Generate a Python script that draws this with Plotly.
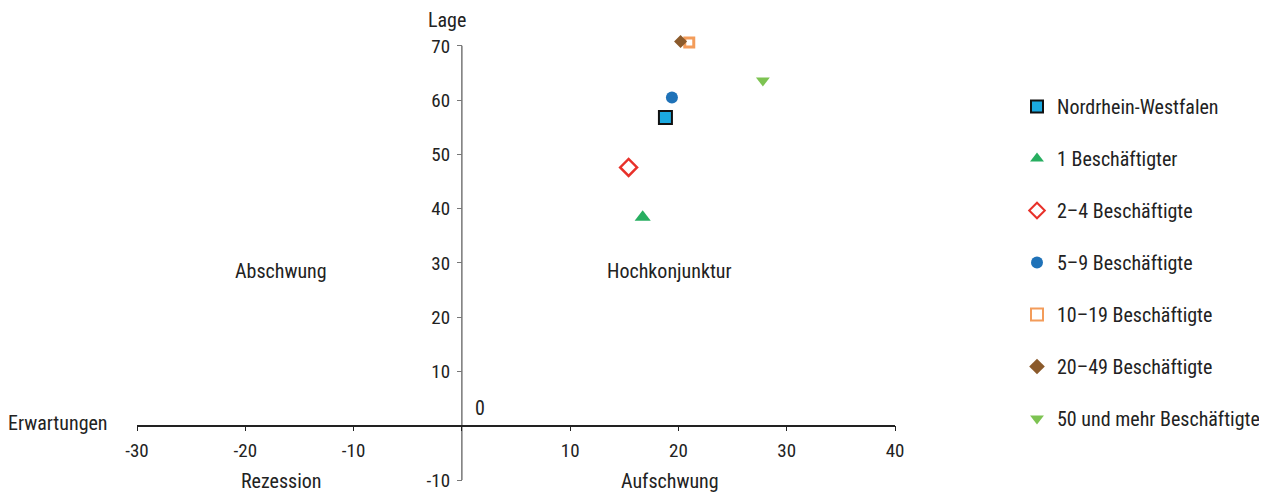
import plotly.graph_objects as go

# ---- data ----
series_names = ["Nordrhein-Westfalen", "1 Beschäftigter", "2–4 Beschäftigte", "5–9 Beschäftigte",
                "10–19 Beschäftigte", "20–49 Beschäftigte", "50 und mehr Beschäftigte"]
erwartungen = [18.8, 16.7, 15.4, 19.4, 21.0, 20.2, 27.8]   # x values
lage = [56.8, 38.4, 47.6, 60.5, 70.6, 70.8, 63.6]           # y values

x_ticks = [-30, -20, -10, 0, 10, 20, 30, 40]
x_ticktext = ["-30", "-20", "-10", "", "10", "20", "30", "40"]
y_ticks = [-10, 10, 20, 30, 40, 50, 60, 70]
y_ticktext = ["-10", "10", "20", "30", "40", "50", "60", "70"]

FONT = "Roboto Condensed, Liberation Sans Narrow, DejaVu Sans Condensed, Arial Narrow, Roboto, sans-serif"
TXT = "#222222"

styles = [
    dict(symbol="square", size=13, color="#1BA9E0", line=dict(color="#111111", width=2)),
    dict(symbol="triangle-up", size=14, color="#27AE60", line=dict(width=0)),
    dict(symbol="diamond-open", size=13, color="#E8312A", line=dict(color="#E8312A", width=2.5)),
    dict(symbol="circle", size=12, color="#1F72B8", line=dict(width=0)),
    dict(symbol="square", size=9, color="#FFFFFF", line=dict(color="#F39C5A", width=3)),
    dict(symbol="diamond", size=10, color="#8B5A2B", line=dict(width=0)),
    dict(symbol="triangle-down", size=12, color="#7DC352", line=dict(width=0)),
]

fig = go.Figure()
for i, name in enumerate(series_names):
    fig.add_trace(go.Scatter(
        x=[erwartungen[i]], y=[lage[i]], mode="markers", name=name,
        legendgroup=f"g{i}", marker=styles[i], cliponaxis=False,
    ))

xmin, xmax = -30, 40
ymin, ymax = -10, 72
y_axis_top = 70


def px(x):
    return (x - xmin) / (xmax - xmin)


def py(y):
    return (y - ymin) / (ymax - ymin)


labels = [
    (-16.7, 28.6, "Abschwung"),
    (19.2, 28.6, "Hochkonjunktur"),
    (-16.7, -10.2, "Rezession"),
    (19.2, -10.2, "Aufschwung"),
    (1.7, 3.3, "0"),
    (-1.4, 74.8, "Lage"),
    (-37.25, 0.5, "Erwartungen"),
]
annotations = []
for x, y, t in labels:
    annotations.append(dict(x=px(x), y=py(y), xref="paper", yref="paper", text=t,
                            showarrow=False, font=dict(family=FONT, size=20, color=TXT),
                            xanchor="center", yanchor="middle"))

fig.add_shape(type="line", xref="x", yref="y", x0=0, x1=0, y0=ymin, y1=y_axis_top,
              line=dict(color="#777777", width=1.5), layer="below")

fig.update_layout(
    width=1259, height=485,
    margin=dict(l=129, r=372, t=27, b=13, autoexpand=False),
    paper_bgcolor="white", plot_bgcolor="white",
    font=dict(family=FONT, size=19, color=TXT),
    showlegend=True,
    legend=dict(x=(1017 - 137) / 758, xref="paper", xanchor="left",
                y=(445 - 52) / 445, yanchor="top",
                font=dict(family=FONT, size=20, color=TXT),
                tracegroupgap=23, itemsizing="constant"),
    annotations=annotations,
    xaxis=dict(range=[xmin, xmax], anchor="free", position=py(0), automargin=False,
               tickvals=x_ticks, ticktext=x_ticktext, ticks="outside", ticklen=5,
               tickcolor="#222222", showline=True, linecolor="#222222", linewidth=1.5,
               ticklabelstandoff=3,
               showgrid=False, zeroline=False, tickfont=dict(family=FONT, size=19, color=TXT)),
    yaxis=dict(range=[ymin, ymax], anchor="free", position=px(0), automargin=False,
               tickvals=y_ticks, ticktext=y_ticktext, ticks="outside", ticklen=5,
               tickcolor="#777777", showline=False, ticklabelstandoff=3,
               showgrid=False, zeroline=False, tickfont=dict(family=FONT, size=19, color=TXT)),
)

fig.write_html("out.html")
